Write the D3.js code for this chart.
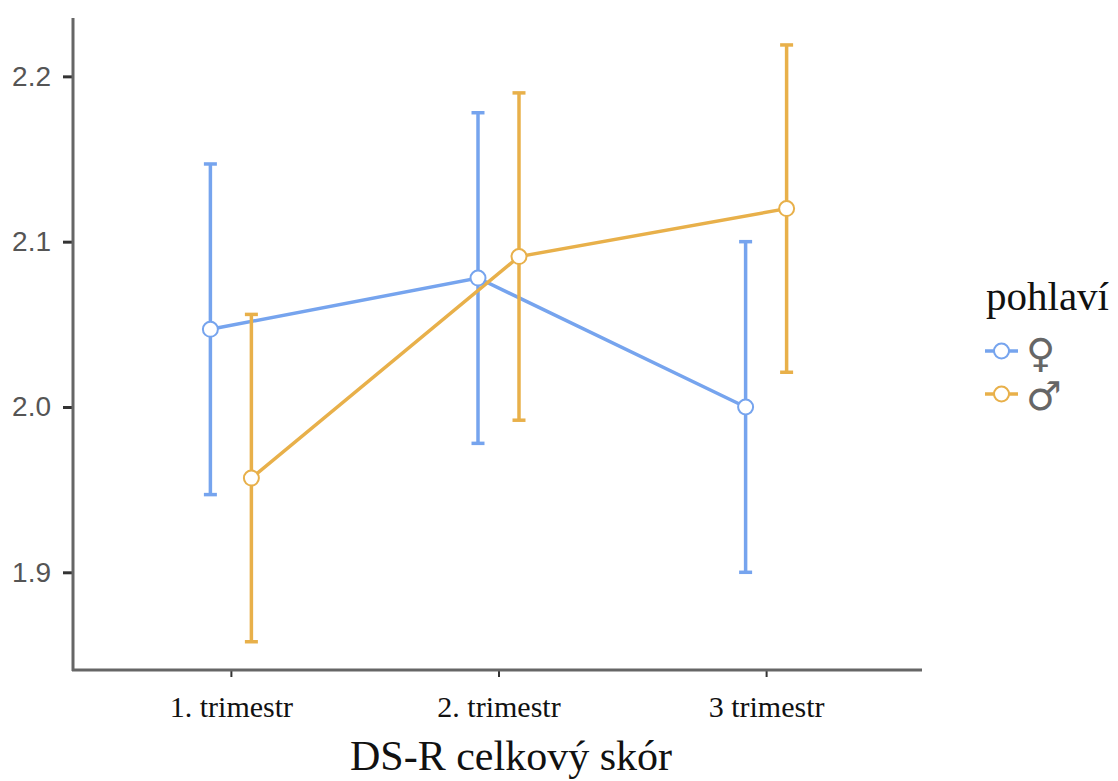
<!DOCTYPE html>
<html>
<head>
<meta charset="utf-8">
<script src="https://cdn.jsdelivr.net/npm/d3@7"></script>
<style>
  body { margin: 0; background: #fff; }
</style>
</head>
<body>
<div id="chart"></div>
<script>
var w = 1118
var h = 781

var categories = ["1. trimestr", "2. trimestr", "3 trimestr"];
var groups = ["\u2640", "\u2642"];
var colors = ["#76A4EE", "#E8B04A"];

// means and CI per group (female, male)
var femaleMean  = [2.047, 2.078, 2.000];
var femaleLower = [1.947, 1.978, 1.900];
var femaleUpper = [2.147, 2.178, 2.100];
var maleMean  = [1.957, 2.091, 2.120];
var maleLower = [1.858, 1.992, 2.021];
var maleUpper = [2.056, 2.190, 2.219];

var yTicks = [1.9, 2.0, 2.1, 2.2];

var series = [
  { name: groups[0], mean: femaleMean, lower: femaleLower, upper: femaleUpper, dodge: -20.5 },
  { name: groups[1], mean: maleMean, lower: maleLower, upper: maleUpper, dodge: 20.5 }
];

var x = d3.scalePoint()
    .domain(categories)
    .range([73, 924])
    .padding(0.59);

var y = d3.scaleLinear()
    .domain([1.8409, 2.2353])
    .range([670, 18]);

var svg = d3.select("#chart").append("svg")
    .attr("width", w)
    .attr("height", h);

// axes
var yAxis = svg.append("g")
    .attr("transform", "translate(73,0)")
    .call(d3.axisLeft(y).tickValues(yTicks).tickFormat(d3.format(".1f")).tickSize(10).tickPadding(12));
yAxis.select(".domain").remove();
yAxis.selectAll(".tick line").attr("stroke", "#333").attr("stroke-width", 3);
yAxis.selectAll(".tick text")
    .attr("font-family", "Liberation Sans, Arial, sans-serif")
    .attr("font-size", 28)
    .attr("fill", "#555");

var xAxis = svg.append("g")
    .attr("transform", "translate(0,670)")
    .call(d3.axisBottom(x).tickSize(7).tickPadding(0));
xAxis.select(".domain").remove();
xAxis.selectAll(".tick line").attr("stroke", "#333").attr("stroke-width", 2);
xAxis.selectAll(".tick text")
    .attr("dy", null)
    .attr("y", 47)
    .attr("font-family", "Liberation Serif, Times New Roman, serif")
    .attr("font-size", 30)
    .attr("fill", "#111");

svg.append("line")
    .attr("x1", 73).attr("x2", 73)
    .attr("y1", y.range()[1]).attr("y2", 671)
    .attr("stroke", "#666").attr("stroke-width", 3);
svg.append("line")
    .attr("x1", 72).attr("x2", 922)
    .attr("y1", 670).attr("y2", 670)
    .attr("stroke", "#666").attr("stroke-width", 3);

svg.append("text")
    .attr("x", 511)
    .attr("y", 770)
    .attr("text-anchor", "middle")
    .attr("font-family", "Liberation Serif, Times New Roman, serif")
    .attr("font-size", 42)
    .attr("fill", "#111")
    .text("DS-R celkový skór");

var line = d3.line()
    .x(function(d) { return d.x; })
    .y(function(d) { return y(d.v); });

series.forEach(function(s, si) {
  var g = svg.append("g");
  var pts = categories.map(function(c, i) {
    return { x: x(c) + s.dodge, v: s.mean[i], lo: s.lower[i], hi: s.upper[i] };
  });

  g.selectAll("line.err").data(pts).enter()
    .append("line")
      .attr("x1", function(d) { return d.x; })
      .attr("x2", function(d) { return d.x; })
      .attr("y1", function(d) { return y(d.lo); })
      .attr("y2", function(d) { return y(d.hi); })
      .attr("stroke", colors[si])
      .attr("stroke-width", 3.5);

  [ "lo", "hi" ].forEach(function(k) {
    g.selectAll("line.cap" + k).data(pts).enter()
      .append("line")
        .attr("x1", function(d) { return d.x - 6.5; })
        .attr("x2", function(d) { return d.x + 6.5; })
        .attr("y1", function(d) { return y(d[k]); })
        .attr("y2", function(d) { return y(d[k]); })
        .attr("stroke", colors[si])
        .attr("stroke-width", 3.5);
  });

  g.append("path")
    .attr("d", line(pts))
    .attr("fill", "none")
    .attr("stroke", colors[si])
    .attr("stroke-width", 3.5);
});

series.forEach(function(s, si) {
  svg.append("g").selectAll("circle").data(categories).enter()
    .append("circle")
      .attr("cx", function(c) { return x(c) + s.dodge; })
      .attr("cy", function(c, i) { return y(s.mean[i]); })
      .attr("r", 7.5)
      .attr("fill", "#fff")
      .attr("stroke", colors[si])
      .attr("stroke-width", 2);
});

// legend
svg.append("text")
    .attr("x", 986)
    .attr("y", 310)
    .attr("font-family", "Liberation Serif, Times New Roman, serif")
    .attr("font-size", 41)
    .attr("fill", "#111")
    .text("pohlaví");

var leg = svg.selectAll("g.legend").data(groups).enter()
  .append("g")
    .attr("class", "legend")
    .attr("transform", function(d, i) { return "translate(0," + (351 + i * 43) + ")"; });

leg.append("line")
    .attr("x1", 985).attr("x2", 1018)
    .attr("stroke", function(d, i) { return colors[i]; })
    .attr("stroke-width", 3.5);
leg.append("circle")
    .attr("cx", 1001.5)
    .attr("r", 7.5)
    .attr("fill", "#fff")
    .attr("stroke", function(d, i) { return colors[i]; })
    .attr("stroke-width", 2);
leg.append("text")
    .attr("x", 1026)
    .attr("y", 16)
    .attr("font-family", "DejaVu Sans, sans-serif")
    .attr("font-size", 40)
    .attr("fill", "#666")
    .text(function(d) { return d; });
</script>
</body>
</html>
